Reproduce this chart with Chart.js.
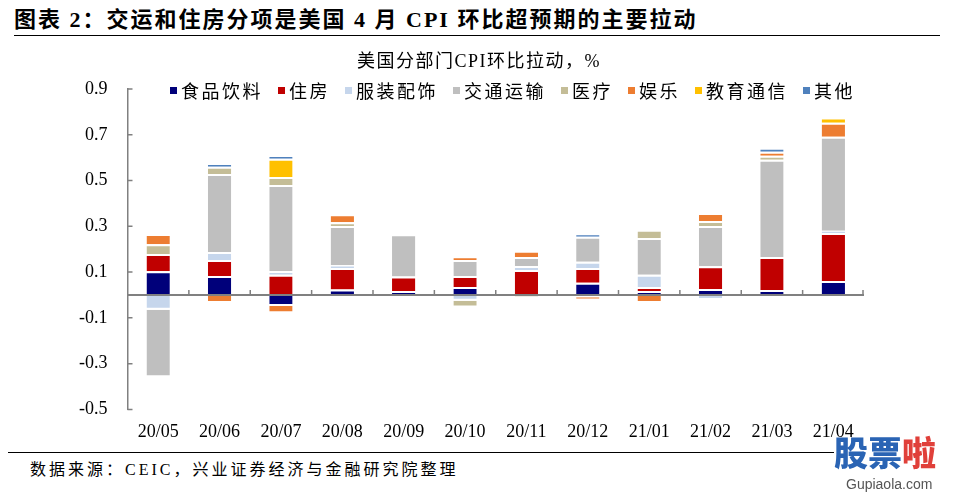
<!DOCTYPE html>
<html lang="zh-CN">

<head>
    <meta charset="UTF-8">
    <title>美国分部门CPI环比拉动</title>
    <script src="https://cdn.jsdelivr.net/npm/chart.js"></script>
    <style>
        body {
            margin: 0;
            background: #fff;
            font-family: "Liberation Serif", "Noto Sans CJK SC", serif;
            color: #000;
        }

        .page {
            position: relative;
            width: 953px;
            height: 498px;
            overflow: hidden;
        }

        .title {
            position: absolute;
            left: 14px;
            top: 1px;
            font-size: 22px;
            font-weight: bold;
            letter-spacing: 2px;
            white-space: nowrap;
        }

        .subtitle {
            position: absolute;
            left: 357px;
            top: 46px;
            font-size: 18px;
            letter-spacing: 1.5px;
            white-space: nowrap;
        }

        .rule {
            position: absolute;
            height: 0;
            border-top: 1.5px solid #000;
        }

        .chart-box {
            position: absolute;
            left: 0;
            top: 40px;
            width: 953px;
            height: 415px;
        }

        #legend {
            position: absolute;
            left: 170px;
            top: 77px;
            display: flex;
            font-size: 18px;
            white-space: nowrap;
            letter-spacing: 2.5px;
        }

        #legend span.item {
            display: flex;
            align-items: center;
            margin-right: 15px;
        }

        #legend span.box {
            display: inline-block;
            width: 7px;
            height: 7px;
            margin-right: 4px;
        }

        .source {
            position: absolute;
            left: 30px;
            top: 456px;
            font-size: 16px;
            letter-spacing: 3px;
            white-space: nowrap;
        }

        .logo {
            position: absolute;
            left: 834px;
            top: 432px;
            font-family: "Noto Sans CJK SC", sans-serif;
            font-weight: 900;
            font-size: 34px;
            line-height: 40px;
            color: #2a64b4;
        }

        .logo .la {
            color: #e0403a;
        }

        .logo-url {
            position: absolute;
            left: 846px;
            top: 476px;
            font-family: "Liberation Sans", sans-serif;
            font-size: 14px;
            color: #555;
        }
    </style>
</head>

<body>
    <div class="page">
        <div class="title">图表 2：交运和住房分项是美国 4 月 CPI 环比超预期的主要拉动</div>
        <div class="rule" style="left:14px; top:35px; width:926px;"></div>

        <div class="chart-box">
            <canvas id="cpiChart"></canvas>
        </div>
        <div class="subtitle">美国分部门CPI环比拉动，%</div>
        <div id="legend"></div>

        <div class="rule" style="left:8px; top:452px; width:826px;"></div>
        <div class="source">数据来源：CEIC，兴业证券经济与金融研究院整理</div>
        <div class="logo">股票<span class="la">啦</span></div>
        <div class="logo-url">Gupiaola.com</div>
    </div>

    <script>
        const months = ['20/05', '20/06', '20/07', '20/08', '20/09', '20/10', '20/11', '20/12', '21/01', '21/02', '21/03', '21/04'];
        const yTicks = [-0.5, -0.3, -0.1, 0.1, 0.3, 0.5, 0.7, 0.9];

        const food = [0.104, 0.083, -0.048, 0.024, 0.017, 0.035, 0, 0.053, 0.017, 0.026, 0.022, 0.061];
        const housing = [0.075, 0.070, 0.088, 0.094, 0.064, 0.048, 0.109, 0.065, 0.018, 0.100, 0.144, 0.210];
        const apparel = [-0.065, 0.035, 0.017, 0.012, -0.008, -0.025, 0.018, 0.027, 0.053, -0.022, 0, 0.010];
        const transport = [-0.295, 0.341, 0.376, 0.171, 0.184, 0.070, 0.039, 0.109, 0.161, 0.175, 0.425, 0.410];
        const medical = [0.043, 0.031, 0.035, 0.017, 0, -0.030, -0.012, -0.010, 0.036, 0.022, 0.017, 0];
        const recreation = [0.044, -0.035, -0.032, 0.035, 0, 0.015, 0.027, -0.010, -0.035, 0.035, 0.018, 0.062];
        const education = [0, 0, 0.079, 0, 0, 0, 0, 0, 0, 0, 0, 0.022];
        const other = [0, 0.015, 0.015, 0, 0, 0, 0, 0.015, 0, 0, 0.017, 0];

        const seriesNames = ['食品饮料', '住房', '服装配饰', '交通运输', '医疗', '娱乐', '教育通信', '其他'];
        const seriesData = [food, housing, apparel, transport, medical, recreation, education, other];
        const seriesColors = ['#00007a', '#c00000', '#c6d6ec', '#bfbfbf', '#c4bd97', '#ed7d31', '#ffc000', '#4f81bd'];

        // legend sits on top of the plot, so it is built in html
        const legendEl = document.getElementById('legend');
        seriesNames.forEach(function (name, i) {
            const item = document.createElement('span');
            item.className = 'item';
            item.innerHTML = '<span class="box" style="background:' + seriesColors[i] + '"></span>' + name;
            legendEl.appendChild(item);
        });

        // zero line, category ticks and inward y ticks
        const axisMarks = {
            id: 'axisMarks',
            afterDatasetsDraw(chart) {
                const { ctx, chartArea, scales } = chart;
                const x = scales.x, y = scales.y;
                const y0 = y.getPixelForValue(0);
                ctx.save();
                ctx.strokeStyle = '#808080';
                ctx.lineWidth = 2;
                ctx.beginPath();
                ctx.moveTo(chartArea.left, y0);
                ctx.lineTo(chartArea.right, y0);
                ctx.stroke();

                ctx.lineWidth = 1.5;
                ctx.beginPath();
                for (let i = 1; i <= months.length; i++) {
                    const px = i < months.length
                        ? (x.getPixelForValue(i - 1) + x.getPixelForValue(i)) / 2
                        : chartArea.right - 1;
                    ctx.moveTo(px, y0);
                    ctx.lineTo(px, y0 - 5);
                }
                y.ticks.forEach(function (t, i) {
                    const py = y.getPixelForTick(i);
                    ctx.moveTo(chartArea.left, py);
                    ctx.lineTo(chartArea.left + 5, py);
                });
                ctx.stroke();
                ctx.restore();
            }
        };

        const ctx = document.getElementById('cpiChart').getContext('2d');
        const chart = new Chart(ctx, {
            type: 'bar',
            data: {
                labels: months,
                datasets: seriesNames.map(function (name, i) {
                    return {
                        label: name,
                        data: seriesData[i],
                        backgroundColor: seriesColors[i],
                        borderColor: '#ffffff',
                        borderWidth: { top: 2, bottom: 2, left: 0, right: 0 },
                        barPercentage: 0.38,
                        categoryPercentage: 1
                    };
                })
            },
            options: {
                responsive: true,
                maintainAspectRatio: false,
                animation: false,
                layout: {
                    padding: { left: 59, right: 89, top: 49, bottom: 0 }
                },
                plugins: {
                    legend: { display: false },
                    tooltip: { enabled: false },
                    title: { display: false }
                },
                scales: {
                    x: {
                        stacked: true,
                        grid: { display: false, drawTicks: false },
                        border: { display: false },
                        ticks: {
                            color: '#000',
                            padding: 12,
                            font: { family: '"Liberation Serif"', size: 18 }
                        }
                    },
                    y: {
                        stacked: true,
                        min: yTicks[0],
                        max: yTicks[yTicks.length - 1],
                        afterBuildTicks: function (scale) {
                            scale.ticks = yTicks.map(function (v) { return { value: v }; });
                        },
                        grid: { drawOnChartArea: false, drawTicks: false },
                        border: { display: true, color: '#808080', width: 1.5 },
                        ticks: {
                            color: '#000',
                            padding: 20,
                            font: { family: '"Liberation Serif"', size: 18 },
                            callback: function (v) { return v.toFixed(1); }
                        }
                    }
                }
            },
            plugins: [axisMarks]
        });
    </script>
</body>

</html>
